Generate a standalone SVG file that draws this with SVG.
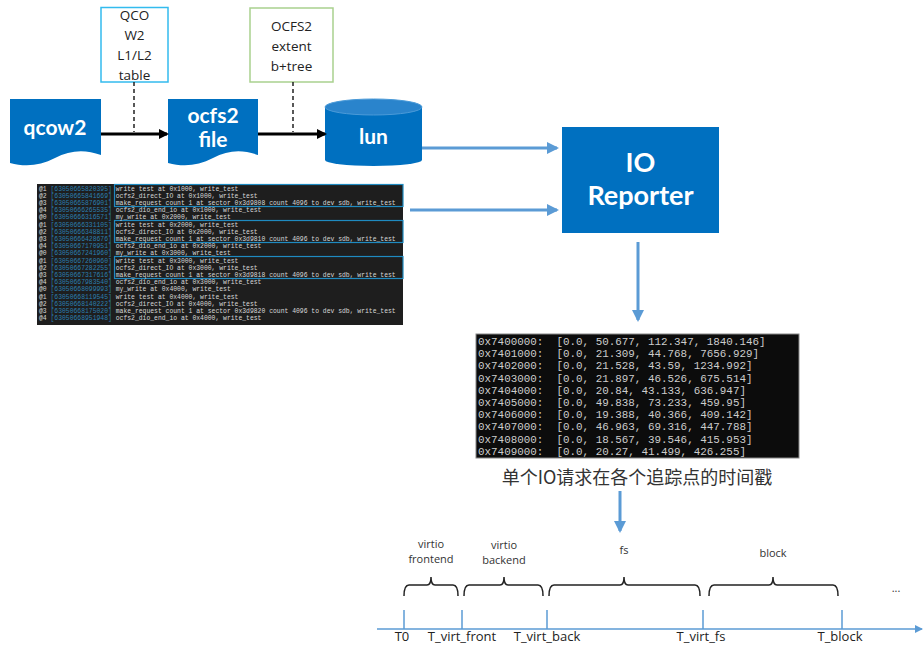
<svg xmlns="http://www.w3.org/2000/svg" width="924" height="648" viewBox="0 0 924 648">
<style>
.blue{fill:#0070c0}
.wt{fill:#fff;font-family:Lato,"Open Sans",sans-serif;font-weight:bold;text-anchor:middle}
.bt{fill:#222;font-family:"Open Sans","Noto Sans",sans-serif;text-anchor:middle;font-size:13.5px}
.term{font-family:"Liberation Mono",monospace;font-size:6.4px;fill:#d8d8d8}
.num{fill:#2b7fb0}
.out{font-family:"Liberation Mono",monospace;font-size:10.9px;fill:#cccccc;white-space:pre}
.tl{fill:#222;font-family:"Open Sans","Noto Sans",sans-serif;font-size:13px;text-anchor:middle}
.sm{fill:#333;font-family:"Open Sans","Noto Sans",sans-serif;font-size:11px;text-anchor:middle}
.lb{stroke:#5b9bd5;stroke-width:3;fill:none}
.brace{stroke:#222;stroke-width:1.5;fill:none}
.hl{fill:none;stroke:#1f8ac0;stroke-width:1.2}
</style>
<defs>
<marker id="ab" markerWidth="10" markerHeight="10" refX="8" refY="5" orient="auto" markerUnits="userSpaceOnUse"><path d="M0,0 L10,5 L0,10 Z" fill="#000"/></marker>
<marker id="al" markerWidth="12" markerHeight="12" refX="10" refY="6" orient="auto" markerUnits="userSpaceOnUse"><path d="M0,0 L12,6 L0,12 Z" fill="#5b9bd5"/></marker>
<marker id="as" markerWidth="8" markerHeight="8" refX="7" refY="4" orient="auto" markerUnits="userSpaceOnUse"><path d="M0,0 L8,4 L0,8 Z" fill="#5b9bd5"/></marker>
</defs>

<g id="qcow-box">
<rect x="101" y="7.5" width="67" height="74.5" fill="#fff" stroke="#33bbee" stroke-width="1.5"/>
<text class="bt" x="134.5" y="20">QCO</text>
<text class="bt" x="134.5" y="40">W2</text>
<text class="bt" x="134.5" y="60">L1/L2</text>
<text class="bt" x="134.5" y="80">table</text>
</g>
<g id="ocfs2-box">
<rect x="250" y="8" width="83" height="74" fill="#fff" stroke="#a9d18e" stroke-width="1.5"/>
<text class="bt" x="291.5" y="31">OCFS2</text>
<text class="bt" x="291.5" y="51">extent</text>
<text class="bt" x="291.5" y="71">b+tree</text>
</g>

<g id="qcow2">
<path class="blue" d="M10,99 H101 V155 C85,149 70,150 55,158 C40,166 25,167 10,163 Z"/>
<text class="wt" x="55" y="135" font-size="21">qcow2</text>
</g>
<g id="ocfs2file">
<path class="blue" d="M168,99 H258 V155 C242,149 228,150 213,158 C198,166 183,167 168,163 Z"/>
<text class="wt" x="213" y="123" font-size="21">ocfs2</text>
<text class="wt" x="213" y="147" font-size="21">file</text>
</g>
<g id="lun">
<path class="blue" d="M325,107 V160 A48.5,6 0 0 0 422,160 V107 Z"/>
<ellipse cx="373.5" cy="107" rx="48.5" ry="8" fill="#2a84cc" stroke="#4a9ad8" stroke-width="1"/>
<text class="wt" x="373.5" y="144" font-size="21">lun</text>
</g>
<g id="io-reporter">
<rect class="blue" x="562" y="127" width="157" height="106"/>
<text class="wt" x="640.5" y="172" font-size="27">IO</text>
<text class="wt" x="640.5" y="205" font-size="27">Reporter</text>
</g>

<g id="trace-log">
<rect x="37" y="184" width="366" height="141" fill="#1e1e1e"/>
<rect class="hl" x="114.5" y="184.5" width="288.5" height="22"/>
<rect class="hl" x="114.5" y="220.5" width="288.5" height="22"/>
<rect class="hl" x="114.5" y="256.5" width="288.5" height="22"/>
<text class="term" x="39" y="190.5">@1 <tspan class="num">[63050665820395]</tspan> write test at 0x1000, write_test</text>
<text class="term" x="39" y="197.7">@2 <tspan class="num">[63050665841669]</tspan> ocfs2_direct_IO at 0x1000, write_test</text>
<text class="term" x="39" y="204.9">@3 <tspan class="num">[63050665876901]</tspan> make_request count 1 at sector 0x3d9808 count 4096 to dev sdb, write_test</text>
<text class="term" x="39" y="212.1">@4 <tspan class="num">[63050666265535]</tspan> ocfs2_dio_end_io at 0x1000, write_test</text>
<text class="term" x="39" y="219.3">@0 <tspan class="num">[63050666316571]</tspan> my_write at 0x2000, write_test</text>
<text class="term" x="39" y="226.5">@1 <tspan class="num">[63050666331105]</tspan> write test at 0x2000, write_test</text>
<text class="term" x="39" y="233.7">@2 <tspan class="num">[63050666348811]</tspan> ocfs2_direct_IO at 0x2000, write_test</text>
<text class="term" x="39" y="240.9">@3 <tspan class="num">[63050666428676]</tspan> make_request count 1 at sector 0x3d9810 count 4096 to dev sdb, write_test</text>
<text class="term" x="39" y="248.1">@4 <tspan class="num">[63050667170951]</tspan> ocfs2_dio_end_io at 0x2000, write_test</text>
<text class="term" x="39" y="255.3">@0 <tspan class="num">[63050667241960]</tspan> my_write at 0x3000, write_test</text>
<text class="term" x="39" y="262.5">@1 <tspan class="num">[63050667260960]</tspan> write test at 0x3000, write_test</text>
<text class="term" x="39" y="269.7">@2 <tspan class="num">[63050667282255]</tspan> ocfs2_direct_IO at 0x3000, write_test</text>
<text class="term" x="39" y="276.9">@3 <tspan class="num">[63050667317616]</tspan> make_request count 1 at sector 0x3d9818 count 4096 to dev sdb, write test</text>
<text class="term" x="39" y="284.1">@4 <tspan class="num">[63050667983540]</tspan> ocfs2_dio_end_io at 0x3000, write_test</text>
<text class="term" x="39" y="291.3">@0 <tspan class="num">[63050668099993]</tspan> my_write at 0x4000, write_test</text>
<text class="term" x="39" y="298.5">@1 <tspan class="num">[63050668119545]</tspan> write test at 0x4000, write_test</text>
<text class="term" x="39" y="305.7">@2 <tspan class="num">[63050668140222]</tspan> ocfs2_direct_IO at 0x4000, write_test</text>
<text class="term" x="39" y="312.9">@3 <tspan class="num">[63050668175020]</tspan> make_request count 1 at sector 0x3d9820 count 4096 to dev sdb, write_test</text>
<text class="term" x="39" y="320.1">@4 <tspan class="num">[63050668951948]</tspan> ocfs2_dio_end_io at 0x4000, write_test</text>
</g>

<g id="timestamps">
<rect x="476" y="334" width="323" height="124" fill="#0c0c0c" stroke="#888" stroke-width="1"/>
<text class="out" x="478" y="345">0x7400000:  [0.0, 50.677, 112.347, 1840.146]</text>
<text class="out" x="478" y="357.2">0x7401000:  [0.0, 21.309, 44.768, 7656.929]</text>
<text class="out" x="478" y="369.4">0x7402000:  [0.0, 21.528, 43.59, 1234.992]</text>
<text class="out" x="478" y="381.6">0x7403000:  [0.0, 21.897, 46.526, 675.514]</text>
<text class="out" x="478" y="393.8">0x7404000:  [0.0, 20.84, 43.133, 636.947]</text>
<text class="out" x="478" y="406">0x7405000:  [0.0, 49.838, 73.233, 459.95]</text>
<text class="out" x="478" y="418.2">0x7406000:  [0.0, 19.388, 40.366, 409.142]</text>
<text class="out" x="478" y="430.4">0x7407000:  [0.0, 46.963, 69.316, 447.788]</text>
<text class="out" x="478" y="442.6">0x7408000:  [0.0, 18.567, 39.546, 415.953]</text>
<text class="out" x="478" y="454.8">0x7409000:  [0.0, 20.27, 41.499, 426.255]</text>
</g>
<g id="caption">
<text x="637" y="484" fill="#333" font-size="18" text-anchor="middle" font-family="'Noto Sans CJK SC','Noto Sans',sans-serif">单个IO请求在各个追踪点的时间戳</text>
</g>

<g id="connectors">
<line x1="134" y1="82" x2="134" y2="132" stroke="#222" stroke-width="1.5" stroke-dasharray="4,3"/>
<line x1="293" y1="82" x2="293" y2="132" stroke="#222" stroke-width="1.5" stroke-dasharray="4,3"/>
<line x1="101" y1="134" x2="167" y2="134" stroke="#000" stroke-width="3" marker-end="url(#ab)"/>
<line x1="258" y1="134" x2="325" y2="134" stroke="#000" stroke-width="3" marker-end="url(#ab)"/>
<line class="lb" x1="422" y1="148" x2="557" y2="148" marker-end="url(#al)"/>
<line class="lb" x1="410" y1="210" x2="557" y2="210" marker-end="url(#al)"/>
<line class="lb" x1="638" y1="242" x2="638" y2="320" marker-end="url(#al)"/>
<line class="lb" x1="620" y1="491" x2="620" y2="531" marker-end="url(#al)"/>
</g>

<g id="timeline">
<line x1="377" y1="629" x2="922" y2="629" stroke="#5b9bd5" stroke-width="1.5" marker-end="url(#as)"/>
<g stroke="#5b9bd5" stroke-width="1.5">
<line x1="404" y1="610" x2="404" y2="629"/>
<line x1="462" y1="610" x2="462" y2="629"/>
<line x1="547" y1="610" x2="547" y2="629"/>
<line x1="703" y1="610" x2="703" y2="629"/>
<line x1="842" y1="610" x2="842" y2="629"/>
</g>
<path class="brace" d="M404,596 Q404,585 409,585 H427 Q431,585 431,577 Q431,585 435,585 H453 Q458,585 458,596"/>
<path class="brace" d="M464,596 Q464,585 469,585 H500 Q504,585 504,577 Q504,585 508,585 H538 Q543,585 543,596"/>
<path class="brace" d="M549,596 Q549,585 554,585 H620 Q624,585 624,577 Q624,585 628,585 H695 Q700,585 700,596"/>
<path class="brace" d="M709,596 Q709,585 714,585 H769 Q773,585 773,577 Q773,585 777,585 H833 Q838,585 838,596"/>
<text class="sm" x="431" y="548">virtio</text>
<text class="sm" x="431" y="563">frontend</text>
<text class="sm" x="504" y="549">virtio</text>
<text class="sm" x="504" y="564">backend</text>
<text class="sm" x="624" y="554">fs</text>
<text class="sm" x="773" y="557">block</text>
<text class="sm" x="896" y="592" fill="#666">...</text>
<text class="tl" x="402" y="641">T0</text>
<text class="tl" x="462" y="641">T_virt_front</text>
<text class="tl" x="547" y="641">T_virt_back</text>
<text class="tl" x="701" y="641">T_virt_fs</text>
<text class="tl" x="840" y="641">T_block</text>
</g>
</svg>
